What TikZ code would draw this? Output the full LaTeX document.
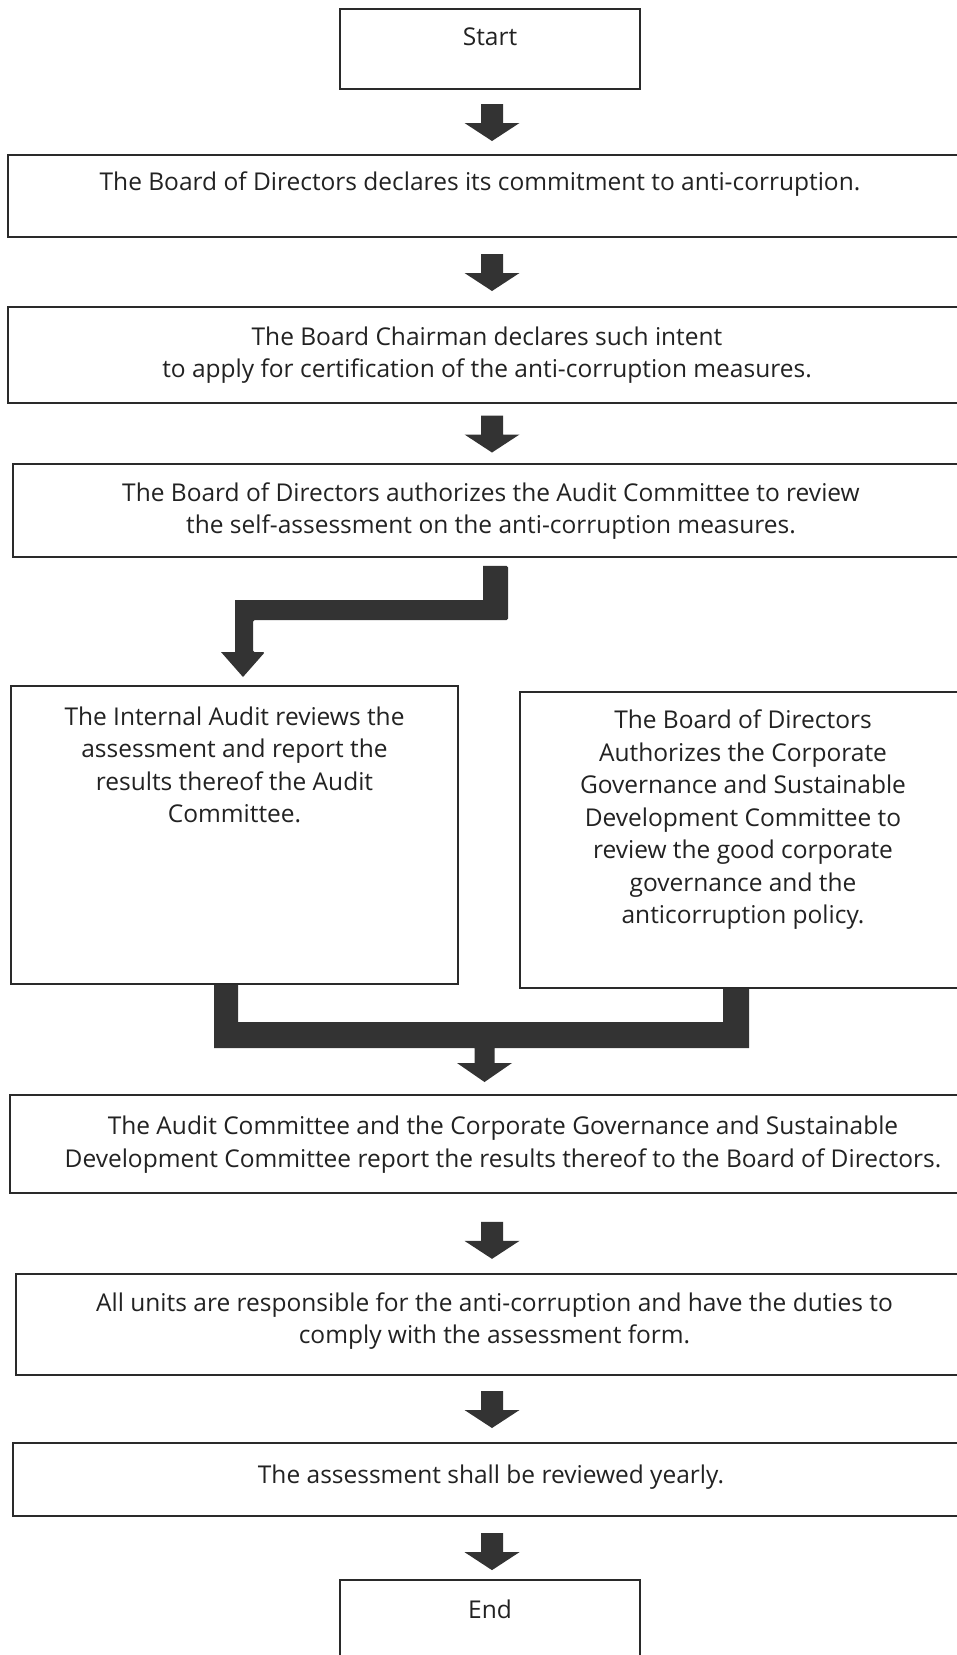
\documentclass[tikz,border=0pt]{standalone}
\usepackage{fontspec}
\setmainfont{Open Sans}
\usetikzlibrary{calc}
\definecolor{inkline}{HTML}{2A2A2A}
\definecolor{inktext}{HTML}{222222}
\definecolor{arrowfill}{HTML}{333333}
\tikzset{
  box/.style={draw=inkline, line width=1.6pt, fill=white, inner sep=0pt, rectangle},
  txt/.style={align=center, inner sep=0pt, text=inktext, font=\fontsize{24.5}{32.5}\selectfont},
  blockdown/.pic={
    \fill[arrowfill] (-11,-18) -- (11,-18) -- (11,1) -- (27.5,1) -- (0,19) -- (-27.5,1) -- (-11,1) -- cycle;
  }
}
\begin{document}
\begin{tikzpicture}[x=1pt, y=-1pt]
\useasboundingbox (0,0) rectangle (957,1655);
\fill[white] (0,0) rectangle (957,1655);

% process boxes
\node[box, minimum width=300, minimum height=80] (start) at (490,49) {};
\node[box, minimum width=958, minimum height=82] (b1) at (487,196) {};
\node[box, minimum width=958, minimum height=96] (b2) at (487,355) {};
\node[box, minimum width=956, minimum height=93] (b3) at (491,510.5) {};
\node[box, minimum width=447, minimum height=298] (b4) at (234.5,835) {};
\node[box, minimum width=446, minimum height=296] (b5) at (743,840) {};
\node[box, minimum width=984, minimum height=98] (b6) at (502,1144) {};
\node[box, minimum width=956, minimum height=101] (b7) at (494,1324.5) {};
\node[box, minimum width=956, minimum height=73] (b8) at (491,1479.5) {};
\node[box, minimum width=300, minimum height=90] (end) at (490,1625) {};

% box texts
\node[txt] (tstart) at (490,37) {Start};
\node[txt] (t1) at (480,184) {The Board of Directors declares its commitment to anti-corruption.};
\node[txt] (t2) at (487,355) {The Board Chairman declares such intent\\to apply for certification of the anti-corruption measures.};
\node[txt] (t3) at (491,511) {The Board of Directors authorizes the Audit Committee to review\\the self-assessment on the anti-corruption measures.};
\node[txt] (t4) at (234.5,765) {The Internal Audit reviews the\\assessment and report the\\results thereof the Audit\\Committee.};
\node[txt] (t5) at (743,820) {The Board of Directors\\Authorizes the Corporate\\Governance and Sustainable\\Development Committee to\\review the good corporate\\governance and the\\anticorruption policy.};
\node[txt] (t6) at (503,1144.5) {The Audit Committee and the Corporate Governance and Sustainable\\Development Committee report the results thereof to the Board of Directors.};
\node[txt] (t7) at (494.5,1321) {All units are responsible for the anti-corruption and have the duties to\\comply with the assessment form.};
\node[txt] (t8) at (491,1477) {The assessment shall be reviewed yearly.};
\node[txt] (tend) at (490,1609) {End};

% straight block arrows between consecutive boxes
\coordinate (ax) at (492,0);
\coordinate (a1) at ($(start.south)!0.5!(b1.north)$);
\coordinate (a2) at ($(b1.south)!0.5!(b2.north)$);
\coordinate (a3) at ($(b2.south)!0.5!(b3.north)$);
\coordinate (a6) at ($(b6.south)!0.58!(b7.north)$);
\coordinate (a7) at ($(b7.south)!0.5!(b8.north)$);
\coordinate (a8) at ($(b8.south)!0.55!(end.north)$);
\pic at (a1 -| ax) {blockdown};
\pic at (a2 -| ax) {blockdown};
\pic at (a3 -| ax) {blockdown};
\pic at (a6 -| ax) {blockdown};
\pic at (a7 -| ax) {blockdown};
\pic at (a8 -| ax) {blockdown};

% bent arrow from b3 down to the left box
\fill[arrowfill, rounded corners=1.5pt]
  ($(b3.south)+(-8,8)$) -- ($(b3.south)+(17,8)$) -- (508,620) -- (253,620) -- (253,652)
  -- (265,652) [sharp corners] -- (243,677) -- (221,652) -- (235,652) -- (235,600) -- (483,600) -- cycle;

% merging connector from the two boxes into b6
\fill[arrowfill]
  (b4.south -| 214,0) -- (b4.south -| 238,0) -- (238,1022) -- (723,1022) -- (b5.south -| 723,0)
  -- (b5.south -| 749,0) -- (749,1048) -- (494.5,1048) -- (494.5,1063) -- (512,1063)
  -- (484.5,1082) -- (457,1063) -- (474.5,1063) -- (474.5,1048) -- (214,1048) -- cycle;
\end{tikzpicture}
\end{document}
